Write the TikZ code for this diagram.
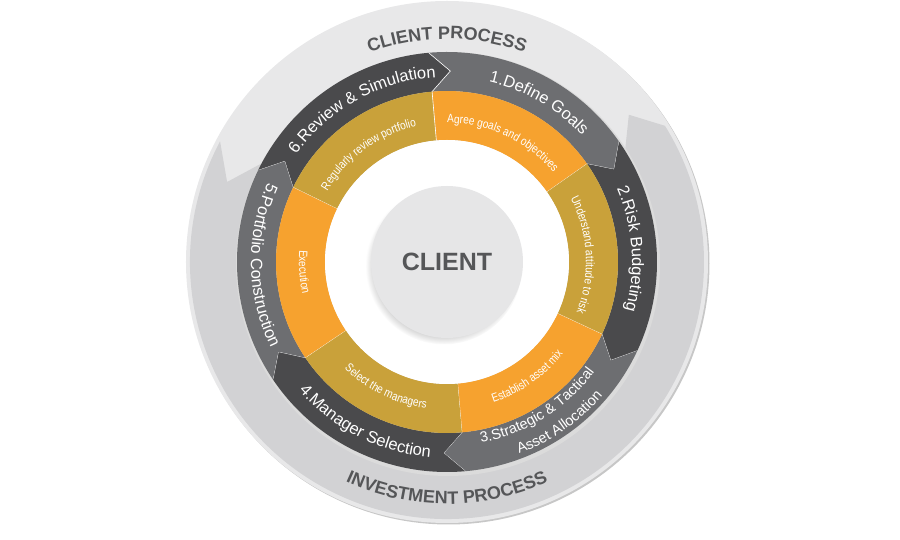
\documentclass[tikz,border=0pt]{standalone}
\usepackage{fontspec}
\setmainfont{Liberation Sans}
\newfontfamily\narrowsans[FakeStretch=0.84]{Liberation Sans}
\usetikzlibrary{decorations.text,shadows}
\definecolor{stepdark}{HTML}{4A4A4C}
\definecolor{stepgrey}{HTML}{6D6E71}
\definecolor{taskorange}{HTML}{F6A22F}
\definecolor{taskgold}{HTML}{C9A13A}
\definecolor{rimlight}{HTML}{E8E8E9}
\definecolor{rimband}{HTML}{D2D2D4}
\definecolor{hubgrey}{HTML}{E6E6E7}
\definecolor{titlegrey}{HTML}{555658}
\tikzset{
  seamline/.style={draw=white, line width=0.6pt},
  hub/.style={circle, fill=hubgrey, minimum size=152pt, inner sep=0pt,
    font=\bfseries\fontsize{25pt}{28pt}\selectfont, text=titlegrey,
    circular drop shadow={shadow xshift=-3pt, shadow yshift=-4pt, shadow scale=1.03, opacity=.45}}
}
\newcommand{\stepfont}{\fontsize{16.5pt}{18pt}\selectfont\color{white}}
\newcommand{\stepsmall}{\fontsize{14.5pt}{16pt}\selectfont\color{white}}
\newcommand{\taskfont}{\narrowsans\fontsize{12pt}{14pt}\selectfont\color{white}}
\newcommand{\rimfont}{\bfseries\fontsize{18pt}{20pt}\selectfont\color{titlegrey}}
% chevron of the step band: ccw end, cw end, colour
\newcommand{\stepseg}[3]{%
  \fill[#3] (#1:210pt) arc[start angle=#1, end angle=#2, radius=210pt]
    -- ({#2-6}:191pt) -- (#2:171pt)
    arc[start angle=#2, end angle=#1, radius=171pt] -- ({#1-6}:191pt) -- cycle;
  \draw[seamline] (#2:210pt) -- ({#2-6}:191pt) -- (#2:171pt);}
% sector of the task ring
\newcommand{\taskseg}[3]{%
  \fill[#3] (#1:171pt) arc[start angle=#1, end angle=#2, radius=171pt]
    -- (#2:122pt) arc[start angle=#2, end angle=#1, radius=122pt] -- cycle;
  \draw[seamline] (#2:122pt) -- (#2:171pt);}
% curved text, tops outward / tops inward
\newcommand{\outlabel}[3]{%
  \path[decorate, decoration={text along path, text align=center, text={#3}}]
    ({#1+48}:#2) arc[start angle={#1+48}, end angle={#1-48}, radius=#2];}
\newcommand{\inlabel}[3]{%
  \path[decorate, decoration={text along path, text align=center, text={#3}}]
    ({#1-48}:#2) arc[start angle={#1-48}, end angle={#1+48}, radius=#2];}
\begin{document}
\begin{tikzpicture}
\useasboundingbox (-447pt,-278pt) rectangle (453pt,262pt);
% outer rim
\fill[black!22] (1.5pt,-1.5pt) circle (261pt);
\fill[rimlight] (0,0) circle (261pt);
\fill[rimband] (152:257pt) arc[start angle=152, end angle=392, radius=257pt]
  -- (399:234pt) -- (392:210pt) arc[start angle=392, end angle=152, radius=210pt]
  -- (160:234pt) -- cycle;
\fill[black!14] (1pt,-2pt) circle (212pt);
% step band
\stepseg{95}{35}{stepgrey}
\stepseg{35}{-25}{stepdark}
\stepseg{-25}{-85}{stepgrey}
\stepseg{-85}{-146}{stepdark}
\stepseg{-146}{-206}{stepgrey}
\stepseg{-206}{-265}{stepdark}
% task ring
\taskseg{95}{35}{taskorange}
\taskseg{35}{-25}{taskgold}
\taskseg{-25}{-85}{taskorange}
\taskseg{-85}{-146}{taskgold}
\taskseg{-146}{-206}{taskorange}
\taskseg{-206}{-265}{taskgold}
\fill[white] (0,0) circle (122pt);
\node[hub] (client) at (0,0) {CLIENT};
% labels
\outlabel{60}{185pt}{|\stepfont|1.Define Goals}
\outlabel{4}{185pt}{|\stepfont|2.Risk Budgeting}
\inlabel{-58}{184pt}{|\stepsmall|3.Strategic {\&} Tactical}
\inlabel{-55}{205pt}{|\stepsmall|Asset Allocation}
\inlabel{-117}{196pt}{|\stepfont|4.Manager Selection}
\inlabel{-179}{196pt}{|\stepfont|5.Portfolio Construction}
\outlabel{119}{185pt}{|\stepfont|6.Review {\&} Simulation}
\outlabel{65}{139pt}{|\taskfont|Agree goals and objectives}
\outlabel{3}{139pt}{|\taskfont|Understand attitude to risk}
\inlabel{-55}{148pt}{|\taskfont|Establish asset mix}
\inlabel{-116}{148pt}{|\taskfont|Select the managers}
\inlabel{-176}{148pt}{|\taskfont|Execution}
\outlabel{126}{139pt}{|\taskfont|Regularly review portfolio}
\outlabel{90}{223pt}{|\rimfont|CLIENT PROCESS}
\inlabel{-90}{242pt}{|\rimfont|INVESTMENT PROCESS}
\end{tikzpicture}
\end{document}
